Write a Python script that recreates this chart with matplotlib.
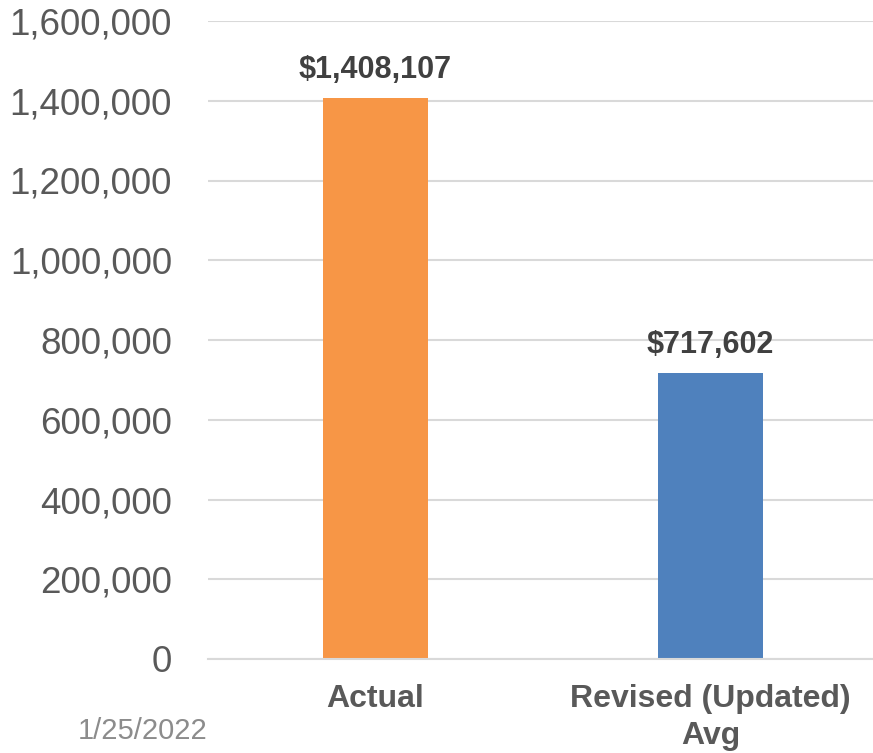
import matplotlib
matplotlib.use("Agg")
import matplotlib.pyplot as plt
from matplotlib.ticker import FuncFormatter

plt.rcParams['font.family'] = ['Liberation Sans', 'DejaVu Sans']

categories = ["Actual", "Revised (Updated)\nAvg"]
values = [1408107, 717602]
colors = ["#F79646", "#4F81BD"]
yticks = [0, 200000, 400000, 600000, 800000, 1000000, 1200000, 1400000, 1600000]
date_text = "1/25/2022"

fig = plt.figure(figsize=(8.73, 7.53), dpi=100)
ax = fig.add_axes([208/873, 1-659/753, 670/873, (659-21)/753])

x = list(range(len(categories)))
bars = ax.bar(x, values, width=0.313, color=colors, zorder=3)
ax.set_xlim(-0.5, 1.5)
ax.set_ylim(0, 1600000)
ax.set_yticks(yticks)
ax.yaxis.set_major_formatter(FuncFormatter(lambda v, p: f"{int(v):,}"))
ax.set_xticks(x)
ax.set_xticklabels(categories, fontsize=23, fontweight='bold', color='#595959', linespacing=1.3)
ax.tick_params(axis='y', length=0, pad=26, labelsize=26.5, labelcolor='#595959')
ax.tick_params(axis='x', length=0, pad=18)
ax.grid(axis='y', color='#D9D9D9', linewidth=1.5, zorder=0)
for s in ['top', 'right', 'left']:
    ax.spines[s].set_visible(False)
ax.spines['bottom'].set_color('#D9D9D9')
ax.spines['bottom'].set_linewidth(1.5)
ax.spines['bottom'].set_zorder(4)

for xi, v in zip(x, values):
    ax.annotate(f"${v:,}", (xi, v), xytext=(0, 9), textcoords='offset points',
                ha='center', va='bottom', fontsize=22, fontweight='bold', color='#404040')

fig.text(78/873, 1-731/753, date_text, fontsize=21, color='#8C8C8C', ha='left', va='center')

fig.savefig("out.png", dpi=100)
